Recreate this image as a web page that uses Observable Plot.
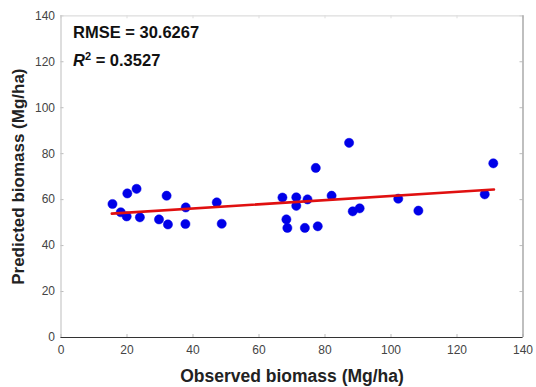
<!DOCTYPE html>
<html>
<head>
<meta charset="utf-8">
<script src="https://cdn.jsdelivr.net/npm/d3@7"></script>
<script src="https://cdn.jsdelivr.net/npm/@observablehq/plot@0.6"></script>
<style>
  html, body { margin: 0; padding: 0; background: #fff; }
  #chart { width: 536px; height: 387px; }
  svg { font-family: "Liberation Sans", Arial, sans-serif; }
</style>
</head>
<body>
<div id="chart"></div>
<script>
// Observed vs predicted biomass (Mg/ha)
const observed = [15.6, 18.1, 19.9, 20.1, 22.9, 23.9, 29.7, 32.0, 32.4, 37.8, 37.7, 47.2, 48.7,
  67.1, 68.3, 68.6, 71.3, 71.3, 73.9, 74.7, 77.2, 77.8, 82.0, 87.3, 88.4, 90.5, 102.2, 108.3, 128.4, 131.0];
const predicted = [58.1, 54.5, 52.7, 62.7, 64.7, 52.3, 51.4, 61.7, 49.2, 56.6, 49.4, 58.8, 49.5,
  60.9, 51.4, 47.7, 61.0, 57.3, 47.7, 60.1, 73.8, 48.4, 61.7, 84.7, 54.9, 56.2, 60.4, 55.2, 62.3, 75.8];
// Fitted regression line end points
const fitX = [15.4, 131.2];
const fitY = [53.9, 64.4];
const xTicks = [0, 20, 40, 60, 80, 100, 120, 140];
const yTicks = [0, 20, 40, 60, 80, 100, 120, 140];
const rmseText = "RMSE = 30.6267";
const r2Value = "0.3527";
const xTitle = "Observed biomass (Mg/ha)";
const yTitle = "Predicted biomass (Mg/ha)";

const points = observed.map((x, i) => ({x, y: predicted[i]}));
const fit = fitX.map((x, i) => ({x, y: fitY[i]}));

const W = 536, H = 387;
const mL = 60.5, mR = 13.5, mT = 15.3, mB = 50;
const pw = W - mL - mR, ph = H - mT - mB;

const chart = Plot.plot({
  width: W, height: H,
  marginLeft: mL, marginRight: mR, marginTop: mT, marginBottom: mB,
  style: {fontFamily: "'Liberation Sans', Arial, sans-serif", background: "#fff"},
  x: {domain: [0, 140]},
  y: {domain: [0, 140]},
  marks: [
    // inward ticks
    Plot.tickX(xTicks, {x: d => d, stroke: "#bbb", insetTop: ph - 3}),
    Plot.tickX(xTicks, {x: d => d, stroke: "#ddd", insetBottom: ph - 3}),
    Plot.tickY(yTicks, {y: d => d, stroke: "#bbb", insetRight: pw - 3}),
    Plot.tickY(yTicks, {y: d => d, stroke: "#bbb", insetLeft: pw - 3}),
    // box
    Plot.ruleY([140], {stroke: "#ddd", strokeWidth: 1.2}),
    Plot.ruleX([0], {stroke: "#c8c8c8", strokeWidth: 1.2}),
    Plot.ruleX([140], {stroke: "#aaa", strokeWidth: 1.5}),
    Plot.ruleY([0], {stroke: "#333", strokeWidth: 1.2}),
    Plot.axisX(xTicks, {tickSize: 0, tickPadding: 8, fontSize: 12, color: "#444", label: null}),
    Plot.axisY(yTicks, {tickSize: 0, tickPadding: 6, fontSize: 12, color: "#444", label: null}),
    Plot.dot(points, {x: "x", y: "y", r: 4.6, fill: "#0000e8", stroke: "#0000e8", strokeWidth: 0.5}),
    Plot.line(fit, {x: "x", y: "y", stroke: "#e01010", strokeWidth: 2.6}),
    Plot.text([rmseText], {frameAnchor: "top-left", text: d => d, dx: 12, dy: 10, fontSize: 16.5, fontWeight: "bold", fill: "#111", textAnchor: "start", lineAnchor: "top", className: "rmse"}),
    Plot.text(["R2 = " + r2Value], {frameAnchor: "top-left", text: d => d, dx: 12, dy: 38, fontSize: 16.5, fontWeight: "bold", fill: "#111", textAnchor: "start", lineAnchor: "top", className: "r2"}),
    Plot.text([xTitle], {frameAnchor: "bottom", text: d => d, dy: 38.5, fontSize: 17.5, fontWeight: "bold", fill: "#222", textAnchor: "middle", lineAnchor: "middle"}),
    Plot.text([yTitle], {frameAnchor: "left", text: d => d, dx: -42.5, rotate: -90, fontSize: 17, fontWeight: "bold", fill: "#222", textAnchor: "middle", lineAnchor: "middle"})
  ]
});

// superscript / italic for R^2
const r2 = chart.querySelector(".r2 text");
if (r2) {
  r2.textContent = "";
  const ns = "http://www.w3.org/2000/svg";
  const t1 = document.createElementNS(ns, "tspan");
  t1.setAttribute("font-style", "italic");
  t1.textContent = "R";
  const t2 = document.createElementNS(ns, "tspan");
  t2.setAttribute("font-size", "11");
  t2.setAttribute("dy", "-6");
  t2.textContent = "2";
  const t3 = document.createElementNS(ns, "tspan");
  t3.setAttribute("dy", "6");
  t3.textContent = " = " + r2Value;
  r2.append(t1, t2, t3);
}
document.getElementById("chart").append(chart);
</script>
</body>
</html>
